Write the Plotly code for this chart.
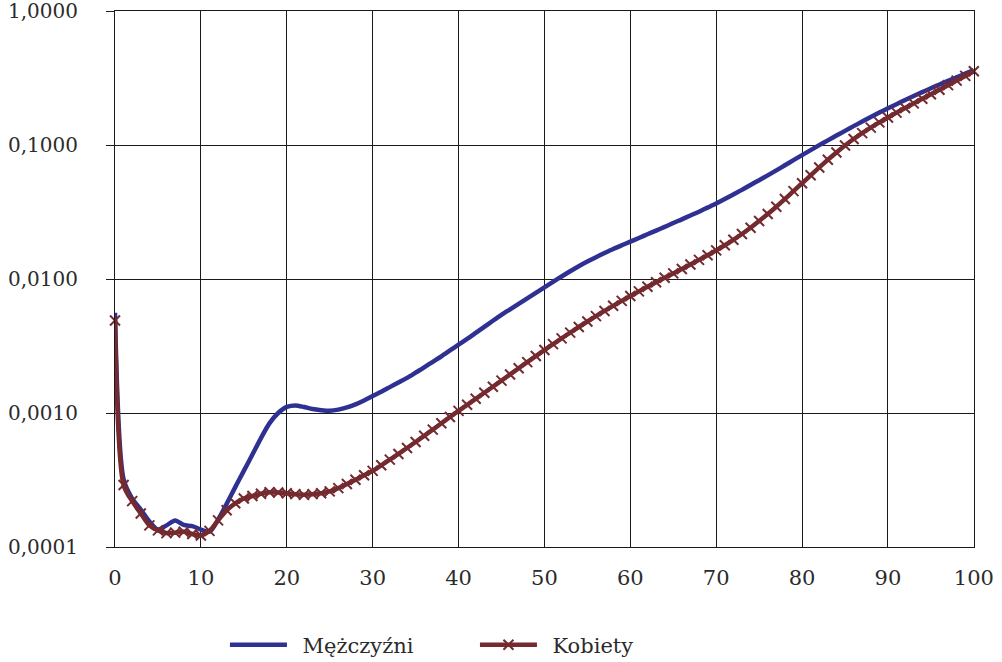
import plotly.graph_objects as go

# Age (years)
ages = list(range(0, 101))

# Mortality rate by age - men
men_rate = [
    0.0056, 0.00032, 0.00023, 0.00019, 0.000155, 0.000135, 0.000145, 0.000158, 0.000146, 0.000143,
    0.000135, 0.000130, 0.000160, 0.00021, 0.00028, 0.00037, 0.00049, 0.00065, 0.00084, 0.00100,
    0.00111, 0.00114, 0.00111, 0.00107, 0.00105, 0.00104, 0.00106, 0.00110, 0.00116, 0.00124,
    0.00134, 0.00144, 0.00156, 0.00169, 0.00183, 0.00200, 0.00219, 0.00241, 0.00265, 0.00293,
    0.00324, 0.00357, 0.00396, 0.00440, 0.00488, 0.00540, 0.00594, 0.00653, 0.00718, 0.00789,
    0.00867, 0.00953, 0.01045, 0.01143, 0.01245, 0.01349, 0.01455, 0.01563, 0.01675, 0.01786,
    0.01901, 0.02023, 0.02158, 0.02300, 0.02450, 0.02620, 0.02790, 0.02980, 0.03180, 0.03410,
    0.03660, 0.03950, 0.04280, 0.04630, 0.05040, 0.05470, 0.05940, 0.06470, 0.07060, 0.07710,
    0.08410, 0.09160, 0.09980, 0.10840, 0.11780, 0.12760, 0.13840, 0.14960, 0.16180, 0.17460,
    0.18800, 0.20180, 0.21680, 0.23230, 0.24830, 0.26550, 0.28310, 0.30130, 0.32060, 0.34120,
    0.36310,
]

# Mortality rate by age - women
women_rate = [
    0.0049, 0.00029, 0.00022, 0.000178, 0.000145, 0.000133, 0.000127, 0.000128, 0.000130, 0.000125,
    0.000122, 0.000132, 0.000158, 0.000188, 0.000212, 0.000230, 0.000240, 0.000250, 0.000256, 0.000255,
    0.000252, 0.000248, 0.000245, 0.000248, 0.000252, 0.000260, 0.000275, 0.000295, 0.000318, 0.000343,
    0.000370, 0.000407, 0.000449, 0.000495, 0.000548, 0.000608, 0.000676, 0.000752, 0.000838, 0.000933,
    0.001038, 0.001151, 0.001276, 0.001416, 0.001570, 0.001746, 0.001941, 0.002158, 0.002399, 0.002661,
    0.002951, 0.003266, 0.003606, 0.003981, 0.004385, 0.004819, 0.005284, 0.005781, 0.006310, 0.006871,
    0.007464, 0.008091, 0.008750, 0.009462, 0.010209, 0.011015, 0.011885, 0.012853, 0.013900, 0.015066,
    0.016368, 0.017865, 0.019634, 0.021677, 0.024155, 0.027102, 0.030549, 0.034674, 0.039537, 0.045290,
    0.051880, 0.059429, 0.068077, 0.077625, 0.088105, 0.099312, 0.110917, 0.122744, 0.134896, 0.147571,
    0.160694, 0.174582, 0.189234, 0.204644, 0.221309, 0.239332, 0.258821, 0.279898, 0.302691, 0.328095,
    0.355631,
]

series_names = ["Mężczyźni", "Kobiety"]

y_tickvals = [0.0001, 0.001, 0.01, 0.1, 1.0]
y_ticktext = ["0,0001", "0,0010", "0,0100", "0,1000", "1,0000"]
x_tickvals = list(range(0, 101, 10))

BLUE = "#2E3192"
RED = "#742A2E"
GRID = "#1a1a1a"
TEXT = "#2b2b2b"
FONT = "DejaVu Serif"
GAP = "\u2002"  # spacing between legend symbol and label

fig = go.Figure()

fig.add_trace(go.Scatter(
    x=ages, y=men_rate, name=GAP + series_names[0],
    mode="lines",
    line=dict(color=BLUE, width=4.5, shape="spline", smoothing=0.8),
    cliponaxis=False,
))

fig.add_trace(go.Scatter(
    x=ages, y=women_rate, name=GAP + series_names[1],
    mode="lines+markers",
    line=dict(color=RED, width=4.5, shape="spline", smoothing=0.8),
    marker=dict(symbol="x-thin", size=10, color=RED, line=dict(color=RED, width=2)),
    cliponaxis=False,
))

fig.update_layout(
    width=1002, height=662,
    margin=dict(l=115, r=28, t=11, b=115, autoexpand=False),
    paper_bgcolor="white",
    plot_bgcolor="white",
    font=dict(family=FONT, size=20, color=TEXT),
    showlegend=True,
    legend=dict(
        orientation="h",
        x=0.128, xanchor="left",
        y=-0.183, yanchor="middle",
        font=dict(family=FONT, size=21, color=TEXT),
        entrywidth=178, entrywidthmode="pixels",
        itemwidth=57,
        bgcolor="rgba(0,0,0,0)",
    ),
)

fig.update_xaxes(
    range=[0, 100.02],
    tickvals=x_tickvals,
    automargin=False,
    ticklabeloverflow="allow",
    showgrid=True, gridcolor=GRID, gridwidth=1,
    showline=True, linecolor=GRID, linewidth=1, mirror=True,
    zeroline=False,
    ticks="",
    ticklabelstandoff=12,
    tickfont=dict(family=FONT, size=21, color=TEXT),
)

fig.update_yaxes(
    type="log",
    range=[-4, 0.0005],
    tickvals=y_tickvals,
    ticktext=y_ticktext,
    automargin=False,
    ticklabeloverflow="allow",
    showgrid=True, gridcolor=GRID, gridwidth=1,
    showline=True, linecolor=GRID, linewidth=1, mirror=True,
    zeroline=False,
    ticks="outside", ticklen=8, tickcolor=GRID, tickwidth=1,
    ticklabelstandoff=24,
    tickfont=dict(family=FONT, size=20, color=TEXT),
)

fig.write_html("out.html")
